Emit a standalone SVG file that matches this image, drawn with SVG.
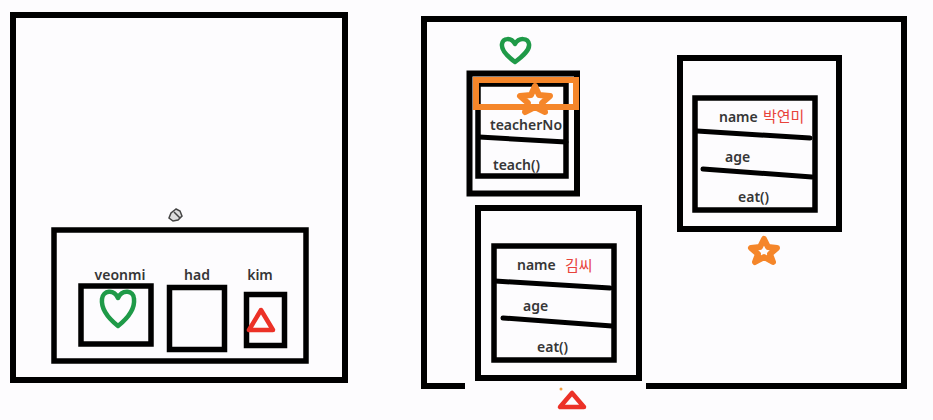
<svg xmlns="http://www.w3.org/2000/svg" width="933" height="420" viewBox="0 0 933 420">
<defs>
<style>
.box{fill:none;stroke:#000;stroke-width:6}
.ibox{fill:none;stroke:#000;stroke-width:5.5}
.div{fill:none;stroke:#000;stroke-width:5;stroke-linecap:round}
.t{font-family:"Noto Sans","Liberation Sans",sans-serif;font-size:14px;font-weight:600;fill:#363636}
.ko{font-family:"Noto Sans CJK KR","Noto Sans",sans-serif;font-size:15px;fill:#e8433a}
.heart{fill:none;stroke:#1f9a48;stroke-width:4.5;stroke-linejoin:round}
.star{fill:none;stroke:#f5862a;stroke-width:6;stroke-linejoin:round}
.tri{fill:none;stroke:#ec3127;stroke-width:4.5;stroke-linejoin:round}
</style>
</defs>
<rect width="933" height="420" fill="#fdfcfe"/>

<g id="left-frame">
<rect class="box" x="13" y="15" width="332" height="365"/>
<path d="M176,209 l-5,4 l-2,5 l4,3 l5,-1 l4,-4 l-2,-5 z M174,212 l6,6" fill="#ddd" stroke="#444" stroke-width="1.5"/>
</g>

<g id="left-object">
<rect class="ibox" x="54" y="230" width="252" height="131"/>
</g>

<g id="veonmi">
<text class="t" x="120" y="280" text-anchor="middle">veonmi</text>
<rect class="ibox" x="81" y="286" width="70" height="58"/>
<path class="heart" d="M118,326 C108,318 101,308 102,299 C103,290 114,289 118,298 C122,289 134,290 134,299 C135,308 128,318 118,326 Z"/>
</g>

<g id="had">
<text class="t" x="197" y="280" text-anchor="middle">had</text>
<rect class="ibox" x="169.5" y="287.5" width="55" height="62"/>
</g>

<g id="kim">
<text class="t" x="260" y="280" text-anchor="middle">kim</text>
<rect class="ibox" x="246.5" y="294.5" width="38" height="51"/>
<polygon class="tri" points="261,310 249,330 273,330"/>
</g>

<g id="right-frame">
<path class="box" d="M465,386 H424 V19 H904 V386 H646"/>
</g>

<g id="teacher">
<path class="heart" stroke-width="5" d="M515,62 C507,56 501,50 502,44 C503,38 511,37 515,44 C519,37 528,38 529,44 C530,50 523,56 515,62 Z"/>
<rect class="box" x="469.5" y="73.5" width="107.5" height="120"/>
<rect class="ibox" x="478" y="84" width="88" height="92"/>
<path class="div" d="M479,137 L566,142"/>
<text class="t" x="490" y="130">teacherNo</text>
<text class="t" x="493" y="170">teach()</text>
<rect x="476" y="80" width="100" height="27" fill="none" stroke="#f5862a" stroke-width="6"/>
<polygon class="star" points="535,86 539,95 550,96 542,103 545,112 535,107 525,112 528,103 520,96 531,95"/>
</g>

<g id="park">
<rect class="box" x="680" y="58" width="159" height="171"/>
<rect class="ibox" x="695" y="98" width="120" height="112"/>
<text class="t" x="719" y="122">name</text>
<text class="ko" x="763" y="122">박연미</text>
<path class="div" d="M697,131 L810,138"/>
<text class="t" x="725" y="162">age</text>
<path class="div" d="M703,169 L812,177"/>
<text class="t" x="738" y="202">eat()</text>
<polygon class="star" points="764,239 768,247 777,248 770,254 773,262 764,257 755,262 758,254 751,248 760,247"/>
</g>

<g id="kimssi">
<rect class="box" x="478" y="208" width="161" height="170"/>
<rect class="ibox" x="494" y="246" width="120" height="114"/>
<text class="t" x="517" y="270">name</text>
<text class="ko" x="565" y="271">김씨</text>
<path class="div" d="M495,281 L610,288"/>
<text class="t" x="523" y="311">age</text>
<path class="div" d="M503,318 L612,326"/>
<text class="t" x="537" y="352">eat()</text>
<polygon class="tri" stroke-width="6" points="572,393 560,407 584,407"/>
<circle cx="561" cy="389" r="1.5" fill="#f5a040"/>
</g>
</svg>
